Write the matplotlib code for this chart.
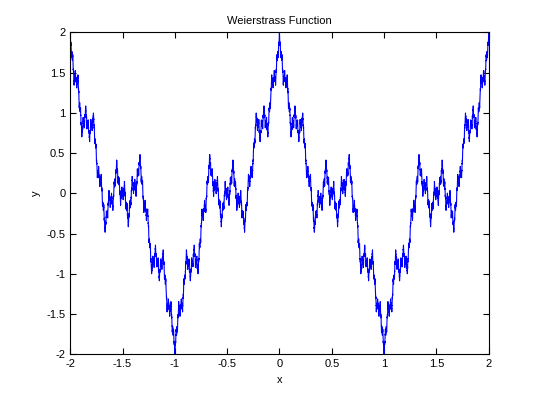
import numpy as np
import matplotlib.pyplot as plt

# Weierstrass function parameters (as named in the chart title)
a = 0.5
b = 3
n_terms = 12
x = np.linspace(-2, 2, 8001)
y = sum(a**n * np.cos(b**n * np.pi * x) for n in range(n_terms))

xticks = [-2, -1.5, -1, -0.5, 0, 0.5, 1, 1.5, 2]
yticks = [-2, -1.5, -1, -0.5, 0, 0.5, 1, 1.5, 2]

plt.rcParams['font.family'] = ['Liberation Sans', 'DejaVu Sans']
fig = plt.figure(figsize=(5.4, 4.05), dpi=100)
ax = fig.add_axes([0.13, 0.125, 0.775, 0.795])
ax.plot(x, y, color='#0000ff', linewidth=0.8)
ax.set_xlim(-2, 2)
ax.set_ylim(-2, 2)
ax.set_xticks(xticks)
ax.set_yticks(yticks)
ax.set_xticklabels([f"{v:g}" for v in xticks])
ax.set_yticklabels([f"{v:g}" for v in yticks])
ax.tick_params(direction='in', top=True, right=True, labelsize=8, length=4)
ax.set_title("Weierstrass Function", fontsize=8)
ax.set_xlabel("x", fontsize=8)
ax.set_ylabel("y", fontsize=8)
fig.savefig("out.png", dpi=100)
